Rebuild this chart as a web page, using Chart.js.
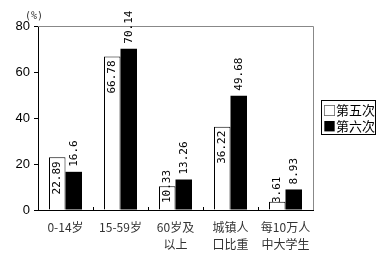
<!DOCTYPE html>
<html>
<head>
<meta charset="utf-8">
<script src="https://cdn.jsdelivr.net/npm/chart.js@4"></script>
<style>
  body { margin: 0; background: #fff; }
  #wrap { width: 383px; height: 261px; }
</style>
</head>
<body>
<div id="wrap"><canvas id="myChart" width="383" height="261"></canvas></div>
<script>
const categories = [['0-14岁'], ['15-59岁'], ['60岁及', '以上'], ['城镇人', '口比重'], ['每10万人', '中大学生']];
const fifth = [22.89, 66.78, 10.33, 36.22, 3.61];
const sixth = [16.6, 70.14, 13.26, 49.68, 8.93];
const seriesNames = ['第五次', '第六次'];
const yTicks = [0, 20, 40, 60, 80];

const ctx = document.getElementById('myChart');

// draws value labels, frame, legend and unit
const extras = {
  id: 'extras',
  afterDatasetsDraw(chart) {
    const c = chart.ctx;
    const area = chart.chartArea;
    const x = chart.scales.x;

    // top and right frame
    c.save();
    c.strokeStyle = '#888';
    c.lineWidth = 1;
    c.beginPath();
    c.moveTo(area.left, area.top + 0.5);
    c.lineTo(area.right + 0.5, area.top + 0.5);
    c.lineTo(area.right + 0.5, area.bottom);
    c.stroke();

    // small ticks between categories
    c.strokeStyle = '#000';
    for (let i = 0; i < categories.length - 1; i++) {
      const px = Math.round((x.getPixelForValue(i) + x.getPixelForValue(i + 1)) / 2) + 0.5;
      c.beginPath();
      c.moveTo(px, area.bottom);
      c.lineTo(px, area.bottom - 3);
      c.stroke();
    }

    // value labels, rotated
    c.font = '11px "DejaVu Sans Mono"';
    c.fillStyle = '#000';
    c.textBaseline = 'middle';
    chart.data.datasets.forEach((ds, di) => {
      const meta = chart.getDatasetMeta(di);
      meta.data.forEach((bar, i) => {
        const txt = String(ds.data[i]);
        const len = c.measureText(txt).width;
        let bottom;
        if (di === 0) {
          let top = bar.y + 4;
          bottom = top + len;
          if (bottom > area.bottom - 7) bottom = area.bottom - 7;
        } else {
          bottom = bar.y - 5;
        }
        c.save();
        c.translate(bar.x, bottom);
        c.rotate(-Math.PI / 2);
        c.textAlign = 'left';
        c.fillText(txt, 0, 0);
        c.restore();
      });
    });

    // unit
    c.font = '10px "DejaVu Sans Mono"';
    c.fillStyle = '#333';
    c.textAlign = 'left';
    c.fillText('(%)', 25, 16);

    // legend
    c.strokeStyle = '#000';
    c.strokeRect(321.5, 100.5, 54, 34);
    c.font = '13px "Noto Sans CJK SC"';
    c.fillStyle = '#000';
    c.textBaseline = 'middle';
    c.fillText('□' + seriesNames[0], 323, 110);
    c.fillText('■' + seriesNames[1], 323, 126);
    c.restore();
  }
};

new Chart(ctx, {
  type: 'bar',
  data: {
    labels: categories,
    datasets: [{
      label: seriesNames[0],
      data: fifth,
      backgroundColor: '#fff',
      borderColor: '#000',
      borderWidth: 1
    }, {
      label: seriesNames[1],
      data: sixth,
      backgroundColor: '#000',
      borderColor: '#000',
      borderWidth: 0
    }]
  },
  options: {
    responsive: false,
    animation: false,
    devicePixelRatio: 1,
    layout: { padding: { left: 0, top: 26, right: 70, bottom: 0 } },
    categoryPercentage: 0.6,
    barPercentage: 1,
    plugins: {
      legend: { display: false },
      tooltip: { enabled: false }
    },
    scales: {
      x: {
        grid: { display: false },
        border: { color: '#000', width: 1 },
        ticks: {
          color: '#333',
          font: { family: '"Noto Sans CJK SC"', size: 12, lineHeight: 1.4 },
          maxRotation: 0,
          autoSkip: false,
          padding: 1
        },
        afterFit(scale) { scale.height = 51; }
      },
      y: {
        min: 0,
        max: 80,
        afterBuildTicks(scale) { scale.ticks = yTicks.map(v => ({ value: v })); },
        grid: { drawOnChartArea: false, tickLength: 4, color: '#000' },
        border: { color: '#000', width: 1 },
        ticks: {
          color: '#000',
          font: { family: '"Liberation Sans"', size: 13 },
          padding: 4
        },
        afterFit(scale) { scale.width = 38; }
      }
    }
  },
  plugins: [extras]
});
</script>
</body>
</html>
